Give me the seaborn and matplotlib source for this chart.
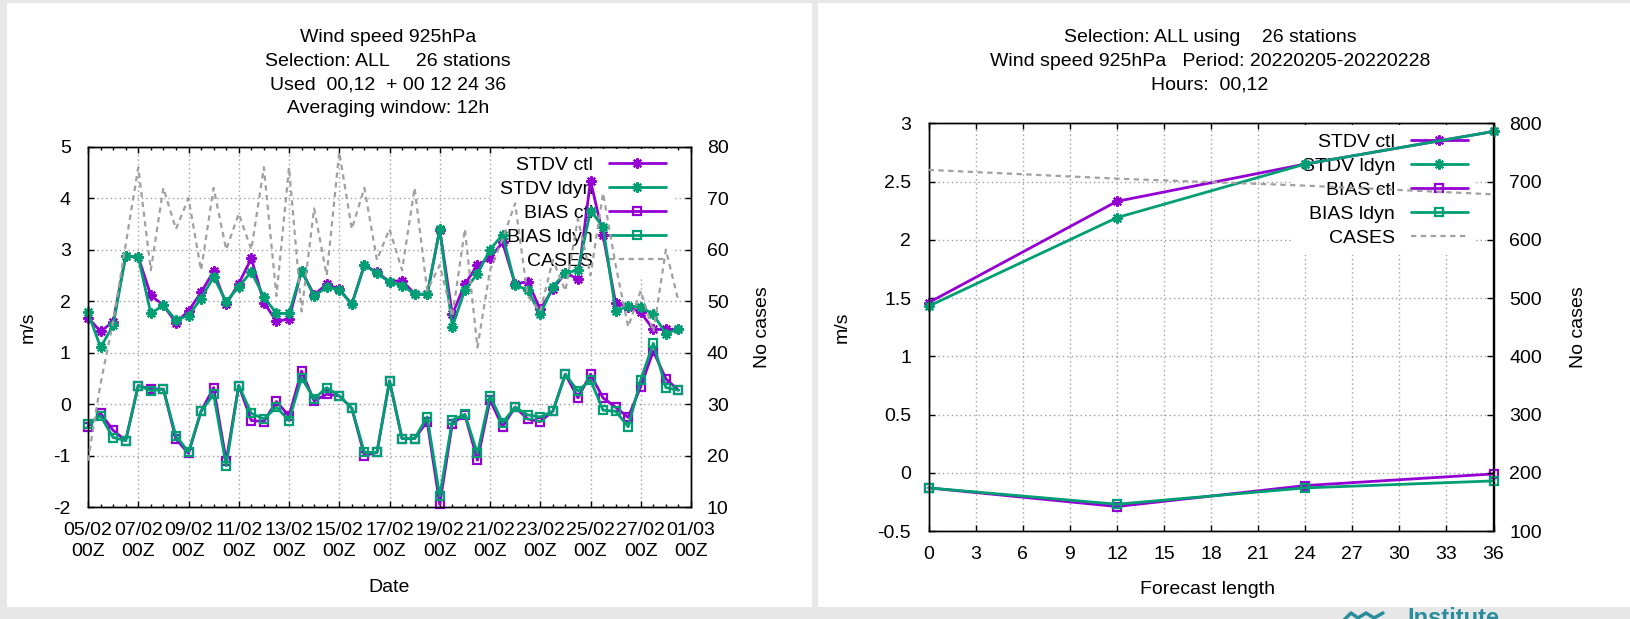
import numpy as np
import pandas as pd
import matplotlib
matplotlib.use("Agg")
import matplotlib.pyplot as plt
import matplotlib.dates as mdates
from matplotlib.patches import Rectangle
from matplotlib.lines import Line2D
from matplotlib.ticker import FixedLocator, FuncFormatter
import seaborn as sns

sns.set_style("white")
plt.rcParams['font.family'] = ['Liberation Sans', 'DejaVu Sans']
plt.rcParams['axes.unicode_minus'] = False

# ---------------- data: left panel (time series, 12h steps from 05/02 00Z) ----------------
start_time = "2022-02-05 00:00"
end_time = "2022-03-01 00:00"
stdv_ctl = [1.68, 1.41, 1.60, 2.88, 2.86, 2.11, 1.92, 1.58, 1.81, 2.17,
            2.58, 1.94, 2.34, 2.83, 1.97, 1.61, 1.65, 2.59, 2.12, 2.33,
            2.23, 1.94, 2.70, 2.56, 2.38, 2.40, 2.14, 2.13, 3.39, 1.74,
            2.33, 2.70, 2.84, 3.14, 2.33, 2.38, 1.84, 2.23, 2.55, 2.43,
            4.34, 3.28, 1.96, 1.89, 1.78, 1.45, 1.45, 1.46]
stdv_ldyn = [1.78, 1.10, 1.53, 2.88, 2.86, 1.76, 1.92, 1.63, 1.72, 2.05,
             2.47, 1.99, 2.28, 2.57, 2.08, 1.76, 1.76, 2.58, 2.10, 2.27,
             2.22, 1.94, 2.70, 2.54, 2.37, 2.30, 2.14, 2.13, 3.40, 1.50,
             2.22, 2.53, 3.00, 3.29, 2.32, 2.21, 1.74, 2.28, 2.55, 2.60,
             3.76, 3.44, 1.81, 1.90, 1.89, 1.74, 1.37, 1.46]
bias_ctl = [-0.44, -0.18, -0.51, -0.71, 0.36, 0.29, 0.29, -0.68, -0.96, -0.14,
            0.32, -1.10, 0.36, -0.32, -0.34, 0.05, -0.23, 0.64, 0.06, 0.19,
            0.16, -0.08, -1.00, -0.94, 0.45, -0.67, -0.67, -0.34, -1.95, -0.38,
            -0.21, -1.09, 0.08, -0.44, -0.06, -0.29, -0.34, -0.14, 0.58, 0.12,
            0.58, 0.12, -0.06, -0.26, 0.34, 1.03, 0.49, 0.27]
bias_ldyn = [-0.39, -0.23, -0.65, -0.71, 0.36, 0.26, 0.29, -0.62, -0.93, -0.14,
             0.19, -1.20, 0.36, -0.18, -0.29, -0.06, -0.32, 0.51, 0.10, 0.32,
             0.16, -0.08, -0.94, -0.94, 0.45, -0.67, -0.67, -0.25, -1.79, -0.31,
             -0.20, -0.96, 0.16, -0.36, -0.06, -0.21, -0.25, -0.14, 0.58, 0.25,
             0.47, -0.12, -0.14, -0.44, 0.47, 1.18, 0.32, 0.27]
cases = [19, 34, 46, 61, 76, 56, 72, 64, 70, 56,
         72, 60, 67, 60, 76, 51, 76, 48, 68, 55,
         79, 64, 72, 58, 64, 56, 72, 52, 57, 47,
         64, 41, 56, 62, 69, 51, 48, 58, 52, 66,
         55, 71, 57, 45, 52, 44, 60, 50]

# ---------------- data: right panel (forecast length) ----------------
lead = [0, 12, 24, 36]
fc_stdv_ctl = [1.46, 2.33, 2.65, 2.93]
fc_stdv_ldyn = [1.43, 2.19, 2.65, 2.93]
fc_bias_ctl = [-0.13, -0.29, -0.11, -0.01]
fc_bias_ldyn = [-0.13, -0.27, -0.13, -0.07]
fc_cases = [720, 705, 693, 678]

series_labels = ["STDV ctl", "STDV ldyn", "BIAS ctl", "BIAS ldyn", "CASES"]
left_yticks = [-2, -1, 0, 1, 2, 3, 4, 5]
left_y2ticks = [10, 20, 30, 40, 50, 60, 70, 80]
right_xticks = [0, 3, 6, 9, 12, 15, 18, 21, 24, 27, 30, 33, 36]
right_yticks = [-0.5, 0, 0.5, 1, 1.5, 2, 2.5, 3]
right_y2ticks = [100, 200, 300, 400, 500, 600, 700, 800]

title_left = "Wind speed 925hPa\nSelection: ALL     26 stations\nUsed  00,12  + 00 12 24 36\nAveraging window: 12h"
title_right = "Selection: ALL using    26 stations\nWind speed 925hPa   Period: 20220205-20220228\nHours:  00,12"

# ---------------- style ----------------
PURPLE = "#9400d3"
GREEN = "#009e73"
GRAY = "#a0a0a0"
FS = 14
W, H = 1630, 619

def fx(px):
    return px / W

def fy(py):
    return 1 - py / H

fig = plt.figure(figsize=(16.3, 6.19), dpi=100, facecolor="#e7e7e7")
for (x0, x1) in [(7, 812), (818, 1630)]:
    fig.patches.append(Rectangle((fx(x0), fy(607)), fx(x1) - fx(x0), fy(3) - fy(607),
                                 transform=fig.transFigure, facecolor="white",
                                 edgecolor="none", zorder=-5))

times = pd.date_range(start_time, periods=len(stdv_ctl), freq="12h")


def draw(ax, x, y, color, kind):
    common = dict(x=x, y=y, ax=ax, color=color, linewidth=2.0, errorbar=None,
                  clip_on=False, zorder=3)
    if kind == "stdv":
        sns.lineplot(marker=(8, 2, 0), markersize=7.5, markeredgewidth=1.5,
                     markeredgecolor=color, markerfacecolor=color, **common)
    elif kind == "bias":
        sns.lineplot(marker="s", markersize=5.2, markeredgewidth=1.6,
                     markeredgecolor=color, markerfacecolor="none", **common)
    else:
        sns.lineplot(x=x, y=y, ax=ax, color=GRAY, linewidth=1.6,
                     linestyle=(0, (2.4, 2.0)), errorbar=None, clip_on=False, zorder=3)
    return ax.lines[-1]


def style_axes(ax, axb):
    ax.set_zorder(1)
    axb.set_zorder(2)
    ax.patch.set_facecolor("white")
    axb.patch.set_visible(False)
    for a in (ax, axb):
        for s in a.spines.values():
            s.set_color("black")
            s.set_linewidth(1.0)
    ax.set_axisbelow(True)
    ax.grid(True, which="major", color=GRAY, linestyle=(0, (1, 2.2)), linewidth=1.0)
    ax.tick_params(axis="x", which="both", direction="in", top=True, bottom=True,
                   labelsize=FS, pad=10.5, colors="black")
    ax.tick_params(axis="x", which="major", length=4.5, width=1)
    ax.tick_params(axis="x", which="minor", length=2.5, width=1)
    ax.tick_params(axis="y", which="both", direction="in", left=True, right=False,
                   labelsize=FS, pad=12.5, length=4.5, width=1, colors="black")
    axb.tick_params(axis="y", which="both", direction="in", right=True, left=False,
                    labelsize=FS, pad=11.5, length=4.5, width=1, colors="black")
    axb.grid(False)
    fmt = FuncFormatter(lambda v, p: f"{v:g}")
    ax.yaxis.set_major_formatter(fmt)
    axb.yaxis.set_major_formatter(fmt)


def add_legend(ax, handles, anchor):
    leg = ax.legend(handles, series_labels, loc="upper right", bbox_to_anchor=anchor,
                    markerfirst=False, frameon=True, facecolor="white", edgecolor="none",
                    framealpha=1, fancybox=False, fontsize=FS, handlelength=2.95,
                    handletextpad=0.8, labelspacing=0.33, borderpad=0.4,
                    borderaxespad=0, numpoints=1)
    leg.set_zorder(1)
    for t in leg.get_texts():
        t.set_color("black")
    return leg


# ---------------- left panel ----------------
ax1 = fig.add_axes([fx(88), fy(507), 603 / W, 360.3 / H])
ax1b = ax1.twinx()
h1 = [draw(ax1, times, stdv_ctl, PURPLE, "stdv"),
      draw(ax1, times, stdv_ldyn, GREEN, "stdv"),
      draw(ax1, times, bias_ctl, PURPLE, "bias"),
      draw(ax1, times, bias_ldyn, GREEN, "bias")]
h1.append(draw(ax1b, times, cases, GRAY, "cases"))

ax1.set_xlim(pd.Timestamp(start_time), pd.Timestamp(end_time))
ax1.set_ylim(-2, 5)
ax1b.set_ylim(10, 80)
major_dates = pd.date_range(start_time, end_time, freq="2D")
minor_dates = pd.date_range(start_time, end_time, freq="12h")
ax1.xaxis.set_major_locator(FixedLocator(mdates.date2num(major_dates)))
ax1.xaxis.set_minor_locator(FixedLocator(mdates.date2num(minor_dates)))
ax1.xaxis.set_major_formatter(mdates.DateFormatter("%d/%m\n%HZ"))
ax1.set_yticks(left_yticks)
ax1b.set_yticks(left_y2ticks)
style_axes(ax1, ax1b)
for lab in ax1.get_xticklabels():
    lab.set_linespacing(1.32)

ax1.set_xlabel("Date", fontsize=FS, color="black")
ax1.xaxis.set_label_coords(0.5, -0.2248)
ax1.xaxis.label.set_va("center")
ax1.set_ylabel("m/s", fontsize=FS, color="black")
ax1.yaxis.set_label_coords(-0.0995, 0.5)
ax1.yaxis.label.set_va("center")
ax1b.set_ylabel("No cases", fontsize=FS, color="black")
ax1b.yaxis.set_label_coords(1.1194, 0.5)
ax1b.yaxis.label.set_va("center")
add_legend(ax1, h1, (0.9715, 0.995))

# ---------------- right panel ----------------
ax2 = fig.add_axes([fx(928.6), fy(531), 564.9 / W, 407.7 / H])
ax2b = ax2.twinx()
h2 = [draw(ax2, lead, fc_stdv_ctl, PURPLE, "stdv"),
      draw(ax2, lead, fc_stdv_ldyn, GREEN, "stdv"),
      draw(ax2, lead, fc_bias_ctl, PURPLE, "bias"),
      draw(ax2, lead, fc_bias_ldyn, GREEN, "bias")]
h2.append(draw(ax2b, lead, fc_cases, GRAY, "cases"))
ax2.set_xlim(0, 36)
ax2.set_ylim(-0.5, 3)
ax2b.set_ylim(100, 800)
ax2.set_xticks(right_xticks)
ax2.set_yticks(right_yticks)
ax2b.set_yticks(right_y2ticks)
style_axes(ax2, ax2b)
ax2.xaxis.set_major_formatter(FuncFormatter(lambda v, p: f"{v:g}"))

ax2.set_xlabel("Forecast length", fontsize=FS, color="black")
ax2.xaxis.set_label_coords(0.494, -0.1447)
ax2.xaxis.label.set_va("center")
ax2.set_ylabel("m/s", fontsize=FS, color="black")
ax2.yaxis.set_label_coords(-0.1533, 0.5)
ax2.yaxis.label.set_va("center")
ax2b.set_ylabel("No cases", fontsize=FS, color="black")
ax2b.yaxis.set_label_coords(1.1496, 0.5)
ax2b.yaxis.label.set_va("center")
add_legend(ax2, h2, (0.9687, 0.995))

# ---------------- titles ----------------
fig.text(fx(388), fy(72.8), title_left, ha="center", va="center", fontsize=FS,
         linespacing=1.5, color="black")
fig.text(fx(1210), fy(61.4), title_right, ha="center", va="center", fontsize=FS,
         linespacing=1.5, color="black")

# ---------------- logo fragment at the bottom edge ----------------
TEAL = "#2a8d9c"
fig.text(fx(1407), fy(625), "Institute", color=TEAL, fontsize=17, fontweight="bold",
         ha="left", va="baseline")
fig.add_artist(Line2D([fx(1343), fx(1351), fx(1358), fx(1366), fx(1374), fx(1383)],
                      [fy(621), fy(613), fy(618), fy(613), fy(618), fy(613)],
                      transform=fig.transFigure, color=TEAL, linewidth=2.5))

fig.savefig("out.png", dpi=100, facecolor=fig.get_facecolor())
